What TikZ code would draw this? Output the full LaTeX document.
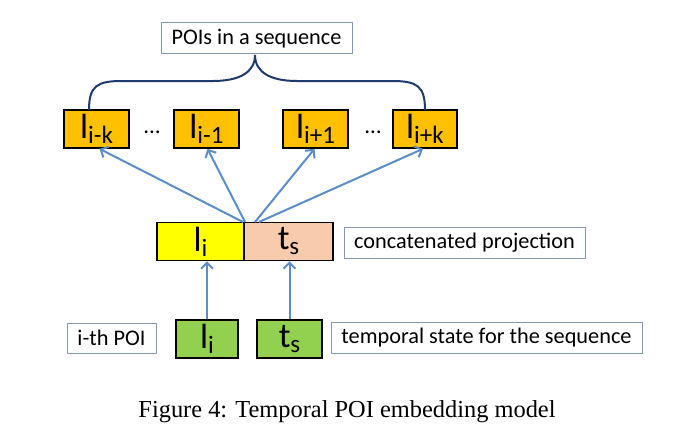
\documentclass[tikz,border=0pt]{standalone}
\usepackage{fontspec}
\setmainfont{Liberation Serif}
\newfontfamily\calib{Carlito}
\usetikzlibrary{arrows.meta,calc}
\definecolor{orangebox}{HTML}{FFC000}
\definecolor{yellowbox}{HTML}{FFFF00}
\definecolor{peachbox}{HTML}{F8CBAD}
\definecolor{greenbox}{HTML}{92D050}
\definecolor{arrowblue}{HTML}{5B8DC8}
\definecolor{bracenavy}{HTML}{1F3A6E}
\definecolor{labelborder}{HTML}{8497B0}
\tikzset{
  vecbox/.style={draw=black, line width=1.6pt, rectangle, inner sep=0pt, minimum height=38pt, font=\calib\fontsize{35}{35}\selectfont},
  labelbox/.style={draw=labelborder, line width=1pt, rectangle, inner sep=0pt, minimum height=31pt, font=\calib\fontsize{22.3}{22.3}\selectfont},
  flow/.style={draw=arrowblue, line width=2pt, -{Straight Barb[length=6pt,width=12pt]}},
  bracepath/.style={draw=bracenavy, line width=2pt},
  dotsstyle/.style={font=\calib\fontsize{23}{23}\selectfont, anchor=base, inner sep=0pt},
}
\newcommand{\vsub}[2]{#1\raisebox{-5pt}{\fontsize{25}{25}\selectfont #2}}
\begin{document}
\begin{tikzpicture}[x=1pt,y=-1pt]
\useasboundingbox (0,0) rectangle (687,436);
% top label
\node[labelbox, minimum width=191pt] (seq) at (256.5,38.5) {POIs in a sequence};
% context boxes
\node[vecbox, fill=orangebox, minimum width=65pt] (b1) at (96.5,129) {\vsub{l}{i-k}};
\node[vecbox, fill=orangebox, minimum width=65pt] (b2) at (206.5,129) {\vsub{l}{i-1}};
\node[vecbox, fill=orangebox, minimum width=65pt] (b3) at (315.5,129) {\vsub{l}{i+1}};
\node[vecbox, fill=orangebox, minimum width=64pt] (b4) at (425,129) {\vsub{l}{i+k}};
\node[dotsstyle] (d1) at (152,133) {…};
\node[dotsstyle] (d2) at (373,133) {…};
% brace
\coordinate (bl) at (89,110);
\coordinate (br) at (425,110);
\coordinate (bp) at (255,55);
\draw[bracepath] (bl) .. controls (89,86) and (97,81) .. (122,81) -- (213,81)
  .. controls (240,81) and (255,72) .. (bp)
  .. controls (255,72) and (270,81) .. (297,81) -- (392,81)
  .. controls (417,81) and (425,86) .. (br);
% concatenated projection
\node[vecbox, fill=yellowbox, minimum width=87pt] (cl) at (200.5,241.5) {\vsub{l}{i}};
\node[vecbox, fill=peachbox, minimum width=89pt] (cr) at (288.5,241.5) {\vsub{t}{s}};
\node[labelbox, minimum width=241pt] (cp) at (464.5,242.5) {concatenated projection};
% inputs
\node[vecbox, fill=greenbox, minimum width=62pt] (gi) at (207,339) {\vsub{l}{i}};
\node[vecbox, fill=greenbox, minimum width=65pt] (gt) at (289.5,339) {\vsub{t}{s}};
\node[labelbox, minimum width=89pt, minimum height=30pt] (ith) at (111.5,338) {i-th POI};
\node[labelbox, minimum width=311pt] (ts) at (486.5,337.5) {temporal state for the sequence};
% arrows
\coordinate (o1) at (243,222);
\coordinate (o2) at (245,222);
\coordinate (o3) at (255,222);
\coordinate (o4) at (259,222);
\draw[flow] (o1) -- ($(b1.south)+(3,0)$);
\draw[flow] (o2) -- ($(b2.south)+(1,0)$);
\draw[flow] (o3) -- ($(b3.south)+(-1,0)$);
\draw[flow] (o4) -- ($(b4.south)+(-2,0)$);
\draw[flow] (gi.north) -- (gi.north |- cl.south);
\draw[flow] (gt.north) -- (gt.north |- cr.south);
% caption
\node[font=\fontsize{24.4}{24.4}\selectfont] (cap) at (347,412) {Figure 4: Temporal POI embedding model};
\end{tikzpicture}
\end{document}
